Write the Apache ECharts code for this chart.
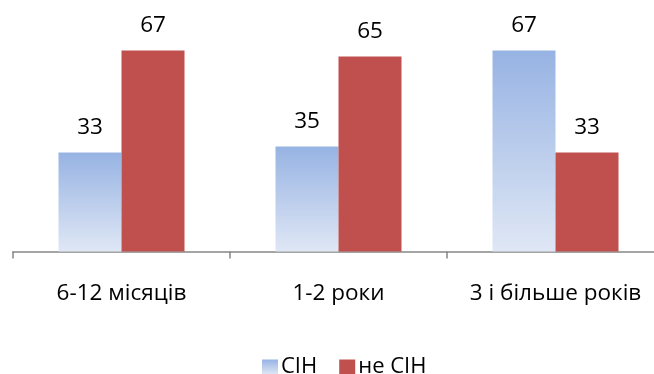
<!DOCTYPE html>
<html>
<head>
<meta charset="utf-8">
<script src="https://cdn.jsdelivr.net/npm/echarts@6/dist/echarts.min.js"></script>
<style>
  html, body { margin: 0; padding: 0; background: #fff; }
  #chart { width: 654px; height: 374px; }
</style>
</head>
<body>
<div id="chart"></div>
<script>
// Тривалість проживання: частка СІН / не СІН, %
const categories = ['6-12 місяців', '1-2 роки', '3 і більше років'];
const sinValues = [33, 35, 67];
const notSinValues = [67, 65, 33];
const seriesNames = ['СІН', 'не СІН'];

const FONT = '"Open Sans", "Noto Sans", sans-serif';

const blueFill = new echarts.graphic.LinearGradient(0, 0, 0, 1, [
  { offset: 0, color: '#97b3e3' },
  { offset: 1, color: '#dfe7f5' }
]);
const redFill = '#c0504d';

const chart = echarts.init(document.getElementById('chart'), null, { renderer: 'canvas' });

chart.setOption({
  animation: false,
  grid: {
    left: 13, top: 11.5, width: 651, height: 240,
    containLabel: false,
    outerBoundsMode: 'none'
  },
  legend: {
    data: seriesNames,
    left: 257,
    top: 351,
    itemWidth: 16,
    itemHeight: 15,
    itemGap: 22,
    icon: 'rect',
    textStyle: { fontFamily: FONT, fontSize: 22, color: '#000', padding: [0, 0, 0, -2] }
  },
  xAxis: {
    type: 'category',
    data: categories,
    boundaryGap: true,
    axisLine: { lineStyle: { color: '#878787', width: 1.5 } },
    axisTick: { show: true, length: 7, lineStyle: { color: '#878787', width: 1.5 } },
    axisLabel: {
      interval: 0,
      hideOverlap: false,
      fontFamily: FONT, fontSize: 22.5, color: '#000', margin: 31
    }
  },
  yAxis: {
    type: 'value',
    min: 0,
    max: 80,
    show: false,
    splitLine: { show: false }
  },
  series: [
    {
      name: seriesNames[0],
      type: 'bar',
      data: sinValues,
      barWidth: 63,
      barGap: '0%',
      itemStyle: { color: blueFill },
      label: { show: true, position: 'top', distance: 13, fontFamily: FONT, fontSize: 22.5, color: '#000' }
    },
    {
      name: seriesNames[1],
      type: 'bar',
      data: notSinValues,
      barWidth: 63,
      barGap: '0%',
      itemStyle: { color: redFill },
      label: { show: true, position: 'top', distance: 13, fontFamily: FONT, fontSize: 22.5, color: '#000' }
    }
  ]
});
</script>
</body>
</html>
